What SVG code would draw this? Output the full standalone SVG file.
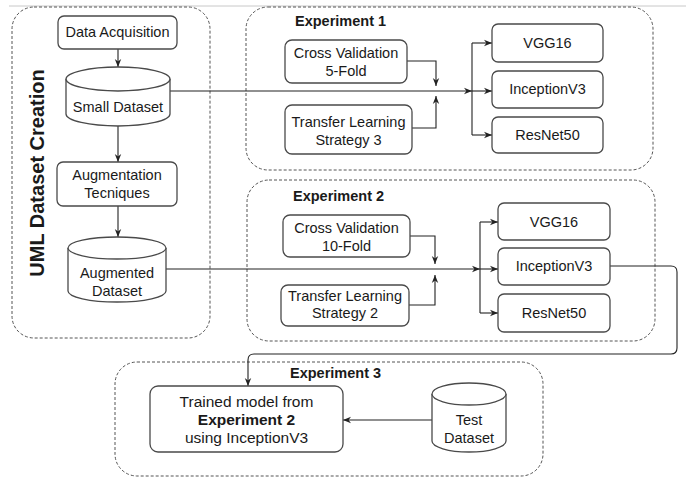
<svg xmlns="http://www.w3.org/2000/svg" width="686" height="478" viewBox="0 0 686 478">
  <style>
    text { font-family: "Liberation Sans", Arial, sans-serif; font-size: 14.5px; fill: #1a1a1a; }
    .c { text-anchor: middle; }
    .b { font-weight: bold; }
    .box { fill: #ffffff; stroke: #4a4a4a; stroke-width: 1.3; }
    .group { fill: none; stroke: #555555; stroke-width: 1; stroke-dasharray: 3 2; }
    .wire { fill: none; stroke: #222222; stroke-width: 1.1; }
  </style>
  <defs>
    <marker id="arrow" viewBox="0 0 10 10" refX="10" refY="5" markerWidth="8" markerHeight="8" markerUnits="userSpaceOnUse" orient="auto">
      <path d="M0,1 L10,5 L0,9 L3,5 Z" fill="#222222"/>
    </marker>
  </defs>

  <rect width="686" height="478" fill="#ffffff"/>
  <line x1="9" y1="6" x2="686" y2="6" stroke="#c8c8c8" stroke-width="1"/>

  <!-- dashed grouping frames -->
  <g id="group-dataset">
    <rect class="group" x="12" y="7" width="198" height="331" rx="22"/>
    <text class="c b" font-size="20" transform="translate(43.5,173) rotate(-90)" style="font-size:20px">UML Dataset Creation</text>
  </g>
  <g id="group-exp1">
    <rect class="group" x="246" y="7" width="407" height="163" rx="22"/>
    <text class="b" x="295" y="26">Experiment 1</text>
  </g>
  <g id="group-exp2">
    <rect class="group" x="247" y="180" width="408" height="161" rx="22"/>
    <text class="b" x="293" y="201">Experiment 2</text>
  </g>
  <g id="group-exp3">
    <rect class="group" x="115" y="362" width="428" height="114" rx="22"/>
    <text class="b" x="290" y="378">Experiment 3</text>
  </g>

  <!-- connectors -->
  <g id="connectors">
    <line class="wire" x1="118" y1="49" x2="118" y2="67" marker-end="url(#arrow)"/>
    <line class="wire" x1="118" y1="126" x2="118" y2="162" marker-end="url(#arrow)"/>
    <line class="wire" x1="118" y1="206" x2="118" y2="237" marker-end="url(#arrow)"/>

    <!-- experiment 1 -->
    <line class="wire" x1="170" y1="91" x2="472" y2="91" marker-end="url(#arrow)"/>
    <polyline class="wire" points="407,61 436,61 436,86" marker-end="url(#arrow)"/>
    <polyline class="wire" points="412,128 436,128 436,96" marker-end="url(#arrow)"/>
    <line class="wire" x1="472" y1="43" x2="472" y2="135"/>
    <line class="wire" x1="472" y1="43" x2="492" y2="43" marker-end="url(#arrow)"/>
    <line class="wire" x1="472" y1="91" x2="492" y2="91" marker-end="url(#arrow)"/>
    <line class="wire" x1="472" y1="135" x2="492" y2="135" marker-end="url(#arrow)"/>

    <!-- experiment 2 -->
    <line class="wire" x1="166" y1="269" x2="480" y2="269" marker-end="url(#arrow)"/>
    <polyline class="wire" points="410,236 435,236 435,264" marker-end="url(#arrow)"/>
    <polyline class="wire" points="409,305 435,305 435,275" marker-end="url(#arrow)"/>
    <line class="wire" x1="480" y1="222" x2="480" y2="313"/>
    <line class="wire" x1="480" y1="222" x2="498" y2="222" marker-end="url(#arrow)"/>
    <line class="wire" x1="480" y1="269" x2="498" y2="269" marker-end="url(#arrow)"/>
    <line class="wire" x1="480" y1="313" x2="498" y2="313" marker-end="url(#arrow)"/>

    <!-- InceptionV3 result feeds experiment 3 -->
    <path class="wire" d="M609,266 L671,266 Q677,266 677,272 L677,348 Q677,354 671,354 L254,354 Q248,354 248,360 L248,386" marker-end="url(#arrow)"/>
    <line class="wire" x1="432" y1="420" x2="343" y2="420" marker-end="url(#arrow)"/>
  </g>

  <!-- dataset creation nodes -->
  <g id="data-acquisition">
    <rect class="box" x="58" y="16" width="119" height="33" rx="6"/>
    <text class="c" x="117.5" y="37">Data Acquisition</text>
  </g>
  <g id="small-dataset">
    <path class="box" d="M66,79 A52,12 0 0 1 170,79 L170,114 A52,12 0 0 1 66,114 Z"/>
    <path class="box" fill="none" d="M66,79 A52,12 0 0 0 170,79"/>
    <text class="c" x="118" y="112">Small Dataset</text>
  </g>
  <g id="augmentation">
    <rect class="box" x="57" y="162" width="120" height="44" rx="6"/>
    <text class="c" x="117" y="180">Augmentation</text>
    <text class="c" x="117" y="198">Tecniques</text>
  </g>
  <g id="augmented-dataset">
    <path class="box" d="M68,248 A49,11 0 0 1 166,248 L166,291 A49,11 0 0 1 68,291 Z"/>
    <path class="box" fill="none" d="M68,248 A49,11 0 0 0 166,248"/>
    <text class="c" x="117" y="278">Augmented</text>
    <text class="c" x="117" y="296">Dataset</text>
  </g>

  <!-- experiment 1 nodes -->
  <g id="cv5">
    <rect class="box" x="285" y="40" width="122" height="43" rx="7"/>
    <text class="c" x="346" y="58">Cross Validation</text>
    <text class="c" x="346" y="76">5-Fold</text>
  </g>
  <g id="tl3">
    <rect class="box" x="285" y="105" width="127" height="49" rx="7"/>
    <text class="c" x="348.5" y="127">Transfer Learning</text>
    <text class="c" x="348.5" y="145">Strategy 3</text>
  </g>
  <g id="vgg16-1">
    <rect class="box" x="492" y="24" width="111" height="38" rx="6"/>
    <text class="c" x="547.5" y="48">VGG16</text>
  </g>
  <g id="inception-1">
    <rect class="box" x="492" y="71" width="111" height="37" rx="6"/>
    <text class="c" x="547.5" y="94">InceptionV3</text>
  </g>
  <g id="resnet-1">
    <rect class="box" x="492" y="117" width="111" height="36" rx="6"/>
    <text class="c" x="547.5" y="140">ResNet50</text>
  </g>

  <!-- experiment 2 nodes -->
  <g id="cv10">
    <rect class="box" x="283" y="215" width="127" height="42" rx="7"/>
    <text class="c" x="346.5" y="233">Cross Validation</text>
    <text class="c" x="346.5" y="251">10-Fold</text>
  </g>
  <g id="tl2">
    <rect class="box" x="281" y="285" width="128" height="41" rx="7"/>
    <text class="c" x="345" y="301">Transfer Learning</text>
    <text class="c" x="345" y="318">Strategy 2</text>
  </g>
  <g id="vgg16-2">
    <rect class="box" x="498" y="203" width="112" height="37" rx="6"/>
    <text class="c" x="554" y="227">VGG16</text>
  </g>
  <g id="inception-2">
    <rect class="box" x="498" y="248" width="112" height="37" rx="6"/>
    <text class="c" x="554" y="271">InceptionV3</text>
  </g>
  <g id="resnet-2">
    <rect class="box" x="498" y="294" width="112" height="38" rx="6"/>
    <text class="c" x="554" y="318">ResNet50</text>
  </g>

  <!-- experiment 3 nodes -->
  <g id="trained-model">
    <rect class="box" x="150" y="386" width="193" height="66" rx="8"/>
    <text class="c" x="246.5" y="407" style="font-size:15.5px">Trained model from</text>
    <text class="c b" x="246.5" y="425" style="font-size:15.5px">Experiment 2</text>
    <text class="c" x="246.5" y="443" style="font-size:15.5px">using InceptionV3</text>
  </g>
  <g id="test-dataset">
    <path class="box" d="M432,394 A37,11 0 0 1 506,394 L506,441 A37,11 0 0 1 432,441 Z"/>
    <path class="box" fill="none" d="M432,394 A37,11 0 0 0 506,394"/>
    <text class="c" x="469" y="425">Test</text>
    <text class="c" x="469" y="443">Dataset</text>
  </g>
</svg>
